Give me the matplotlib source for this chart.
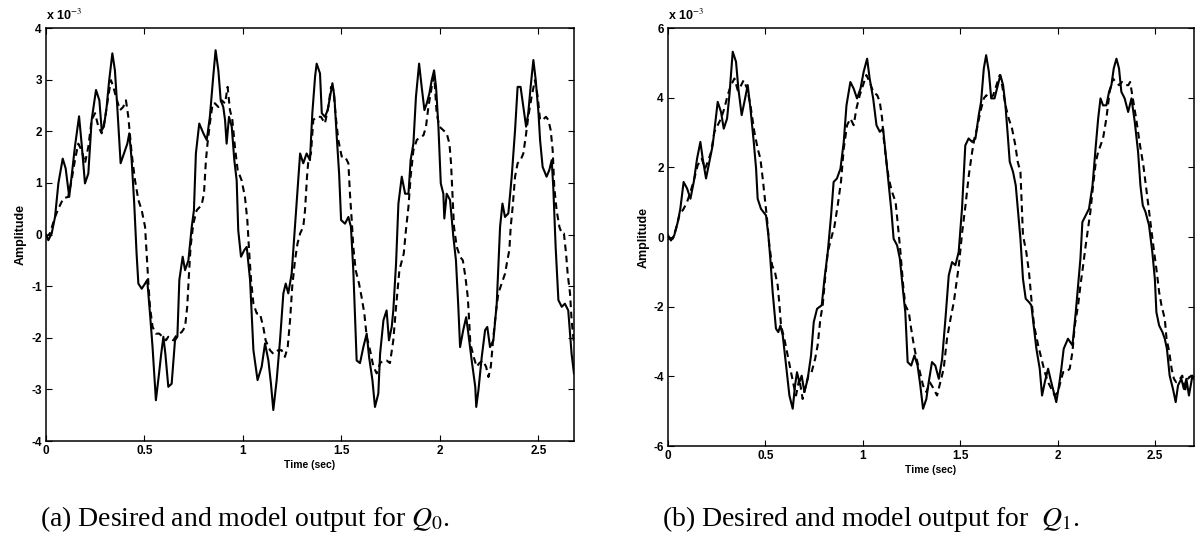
import numpy as np
import matplotlib
matplotlib.use("Agg")
import matplotlib.pyplot as plt

plt.rcParams['axes.unicode_minus'] = False
plt.rcParams['mathtext.fontset'] = 'stix'

# ---- (a) Q0 : desired (solid) and model (dashed), amplitude in units of 1e-3 ----
t_a_des = [0, 0.012, 0.029, 0.046, 0.063, 0.085, 0.10, 0.118, 0.13, 0.147, 0.168, 0.181, 0.198, 0.215,
           0.232, 0.254, 0.271, 0.283, 0.294, 0.308, 0.321, 0.337, 0.35, 0.362, 0.379, 0.396, 0.413,
           0.423, 0.435, 0.448, 0.46, 0.469, 0.486, 0.503, 0.514, 0.528, 0.541, 0.558, 0.574, 0.585,
           0.596, 0.606, 0.621, 0.638, 0.655, 0.667, 0.677, 0.694, 0.706, 0.723, 0.74, 0.751, 0.761,
           0.778, 0.799, 0.816, 0.832, 0.849, 0.861, 0.875, 0.887, 0.90, 0.909, 0.917, 0.929, 0.943,
           0.956, 0.968, 0.976, 0.99, 1.007, 1.019, 1.036, 1.053, 1.074, 1.095, 1.112, 1.129, 1.142,
           1.154, 1.171, 1.188, 1.205, 1.217, 1.23, 1.247, 1.264, 1.281, 1.29, 1.306, 1.323, 1.34,
           1.352, 1.366, 1.374, 1.391, 1.40, 1.416, 1.43, 1.442, 1.454, 1.464, 1.476, 1.488, 1.498,
           1.518, 1.535, 1.548, 1.56, 1.577, 1.594, 1.611, 1.628, 1.64, 1.657, 1.67, 1.687, 1.696,
           1.713, 1.729, 1.741, 1.755, 1.763, 1.777, 1.789, 1.806, 1.823, 1.84, 1.851, 1.865, 1.878,
           1.894, 1.907, 1.921, 1.933, 1.946, 1.958, 1.97, 1.98, 1.992, 2.004, 2.017, 2.022, 2.034,
           2.051, 2.068, 2.081, 2.093, 2.102, 2.118, 2.133, 2.144, 2.161, 2.179, 2.184, 2.195, 2.212,
           2.229, 2.24, 2.254, 2.271, 2.288, 2.305, 2.317, 2.33, 2.347, 2.364, 2.381, 2.394, 2.409,
           2.423, 2.437, 2.448, 2.46, 2.474, 2.486, 2.50, 2.508, 2.521, 2.541, 2.555, 2.567, 2.575,
           2.587, 2.601, 2.618, 2.634, 2.651, 2.66, 2.668, 2.68]
a_des = [0.0, -0.11, 0.02, 0.34, 0.99, 1.47, 1.28, 0.73, 1.12, 1.70, 2.29, 1.76, 0.99, 1.18,
         2.22, 2.80, 2.60, 2.02, 2.09, 2.47, 2.99, 3.51, 3.18, 2.47, 1.38, 1.57, 1.76,
         1.96, 1.44, 0.60, -0.37, -0.95, -1.05, -0.95, -0.88, -1.53, -2.18, -3.21, -2.69, -2.31,
         -1.98, -2.31, -2.95, -2.89, -2.05, -1.98, -0.88, -0.43, -0.69, -0.50, 0.15, 0.47, 1.57,
         2.15, 1.96, 1.83, 2.28, 3.06, 3.57, 3.18, 2.60, 2.47, 2.22, 1.76, 2.28, 2.09,
         1.44, 1.05, 0.08, -0.43, -0.30, -0.24, -0.88, -2.24, -2.82, -2.56, -2.11, -2.44, -2.89,
         -3.40, -2.82, -2.05, -1.14, -0.95, -1.14, -0.76, 0.15, 1.05, 1.57, 1.38, 1.57, 1.44,
         2.35, 3.06, 3.31, 3.12, 2.35, 2.28, 2.41, 2.67, 2.93, 2.67, 1.89, 1.18, 0.28,
         0.21, 0.34, 0.15, -0.69, -2.44, -2.49, -2.18, -1.92, -2.37, -2.82, -3.34, -3.08, -2.31,
         -1.66, -1.47, -2.05, -1.79, -1.47, -0.56, 0.60, 1.12, 0.79, 0.79, 1.44, 1.76, 2.67,
         3.31, 2.86, 2.41, 2.54, 2.73, 2.99, 3.18, 2.86, 2.09, 0.99, 0.79, 0.31, 0.79,
         0.67, -0.05, -0.50, -1.40, -2.18, -1.85, -1.60, -1.92, -2.44, -2.95, -3.34, -3.02, -2.37,
         -1.85, -1.79, -2.18, -2.05, -1.34, 0.15, 0.60, 0.34, 0.41, 1.12, 2.02, 2.86, 2.86,
         2.47, 2.09, 2.35, 2.86, 3.38, 2.99, 2.35, 1.83, 1.31, 1.12, 1.25, 1.44, 0.92,
         -0.24, -1.27, -1.40, -1.34, -1.47, -1.92, -2.31, -2.69]

t_a_mod = [0, 0.02, 0.046, 0.063, 0.088, 0.113, 0.13, 0.147, 0.164, 0.181, 0.198, 0.215, 0.232, 0.249,
           0.266, 0.283, 0.299, 0.316, 0.33, 0.342, 0.355, 0.376, 0.392, 0.406, 0.418, 0.435, 0.452,
           0.469, 0.486, 0.503, 0.511, 0.52, 0.528, 0.541, 0.558, 0.575, 0.592, 0.609, 0.621, 0.646,
           0.663, 0.689, 0.706, 0.717, 0.726, 0.734, 0.748, 0.765, 0.79, 0.802, 0.812, 0.82, 0.832,
           0.846, 0.858, 0.875, 0.892, 0.909, 0.922, 0.934, 0.946, 0.959, 0.973, 0.993, 1.01, 1.022,
           1.032, 1.041, 1.053, 1.07, 1.086, 1.103, 1.115, 1.137, 1.154, 1.179, 1.196, 1.213, 1.227,
           1.239, 1.25, 1.264, 1.277, 1.29, 1.306, 1.315, 1.325, 1.332, 1.345, 1.357, 1.374, 1.396,
           1.416, 1.433, 1.447, 1.459, 1.471, 1.484, 1.501, 1.518, 1.535, 1.543, 1.552, 1.56, 1.572,
           1.589, 1.602, 1.616, 1.628, 1.645, 1.662, 1.679, 1.696, 1.713, 1.729, 1.746, 1.763, 1.777,
           1.794, 1.816, 1.827, 1.84, 1.851, 1.865, 1.882, 1.899, 1.916, 1.929, 1.941, 1.958, 1.971,
           1.983, 1.997, 2.017, 2.034, 2.048, 2.056, 2.063, 2.071, 2.085, 2.102, 2.116, 2.129, 2.141,
           2.148, 2.154, 2.171, 2.186, 2.20, 2.217, 2.234, 2.246, 2.258, 2.271, 2.285, 2.296, 2.313,
           2.33, 2.342, 2.352, 2.359, 2.369, 2.381, 2.394, 2.409, 2.423, 2.435, 2.448, 2.465, 2.482,
           2.496, 2.508, 2.521, 2.538, 2.55, 2.562, 2.572, 2.58, 2.592, 2.606, 2.618, 2.629, 2.64,
           2.648, 2.66, 2.668, 2.68]
a_mod = [-0.05, 0.02, 0.34, 0.50, 0.70, 0.73, 1.05, 1.44, 1.76, 1.63, 1.38, 1.70, 2.22, 2.35,
         2.09, 1.96, 2.22, 2.67, 2.99, 2.86, 2.67, 2.41, 2.47, 2.60, 2.28, 1.57, 1.05,
         0.67, 0.47, 0.15, -0.37, -0.95, -1.40, -1.79, -1.92, -1.92, -1.98, -2.05, -1.98, -2.05,
         -1.95, -1.89, -1.79, -1.40, -0.76, -0.24, 0.21, 0.47, 0.57, 0.79, 1.44, 1.76, 2.15,
         2.54, 2.54, 2.47, 2.60, 2.54, 2.86, 2.41, 2.22, 1.70, 1.25, 1.05, 0.73, 0.28,
         -0.37, -0.88, -1.34, -1.53, -1.53, -1.79, -2.05, -2.24, -2.31, -2.24, -2.24, -2.37, -2.18,
         -1.66, -1.01, -0.50, -0.17, 0.02, 0.15, 0.47, 1.12, 1.44, 1.57, 2.22, 2.28, 2.28,
         2.15, 2.47, 2.86, 2.80, 2.28, 1.83, 1.51, 1.51, 1.38, 0.79, 0.28, -0.24, -0.69,
         -0.95, -1.21, -1.53, -1.98, -2.24, -2.56, -2.69, -2.49, -2.44, -2.44, -2.49, -2.05, -1.40,
         -0.69, -0.37, 0.08, 0.54, 1.12, 1.63, 1.83, 1.89, 1.92, 2.09, 2.47, 2.86, 3.06,
         2.35, 2.09, 2.02, 1.96, 1.76, 1.38, 0.79, 0.15, -0.24, -0.43, -0.50, -0.82, -1.21,
         -1.66, -2.11, -2.37, -2.56, -2.49, -2.44, -2.56, -2.76, -2.56, -1.98, -1.47, -1.14, -0.95,
         -0.76, -0.50, -0.30, 0.15, 0.54, 1.12, 1.38, 1.44, 1.57, 1.89, 2.28, 2.67, 2.99,
         2.67, 2.22, 2.22, 2.28, 2.22, 2.02, 1.63, 0.92, 0.47, 0.15, 0.02, 0.02, -0.37,
         -0.76, -1.14, -1.66, -2.11]

# ---- (b) Q1 ----
t_b_des = [0, 0.015, 0.032, 0.05, 0.063, 0.08, 0.098, 0.115, 0.132, 0.149, 0.166, 0.178, 0.195, 0.212,
           0.229, 0.241, 0.255, 0.272, 0.286, 0.303, 0.315, 0.327, 0.332, 0.349, 0.361, 0.378, 0.392,
           0.409, 0.423, 0.44, 0.452, 0.46, 0.477, 0.503, 0.515, 0.525, 0.537, 0.554, 0.566, 0.577,
           0.589, 0.606, 0.623, 0.64, 0.652, 0.662, 0.674, 0.686, 0.70, 0.717, 0.734, 0.748, 0.765,
           0.789, 0.803, 0.82, 0.837, 0.85, 0.867, 0.885, 0.902, 0.916, 0.936, 0.953, 0.97, 0.988,
           1.004, 1.022, 1.035, 1.053, 1.07, 1.087, 1.104, 1.116, 1.133, 1.147, 1.158, 1.176, 1.19,
           1.207, 1.218, 1.23, 1.248, 1.265, 1.281, 1.295, 1.309, 1.326, 1.338, 1.355, 1.372, 1.39,
           1.407, 1.424, 1.441, 1.458, 1.475, 1.492, 1.509, 1.526, 1.543, 1.561, 1.578, 1.595, 1.607,
           1.621, 1.633, 1.647, 1.659, 1.676, 1.693, 1.706, 1.72, 1.732, 1.744, 1.754, 1.771, 1.785,
           1.797, 1.809, 1.822, 1.836, 1.853, 1.865, 1.877, 1.891, 1.908, 1.92, 1.934, 1.951, 1.963,
           1.976, 1.993, 2.007, 2.019, 2.031, 2.053, 2.076, 2.093, 2.105, 2.117, 2.127, 2.144, 2.161,
           2.179, 2.196, 2.208, 2.22, 2.233, 2.25, 2.264, 2.276, 2.288, 2.302, 2.315, 2.327, 2.344,
           2.362, 2.379, 2.396, 2.413, 2.425, 2.437, 2.451, 2.469, 2.486, 2.499, 2.507, 2.521, 2.538,
           2.55, 2.561, 2.575, 2.592, 2.606, 2.618, 2.635, 2.648, 2.661, 2.674, 2.692, 2.70]
b_des = [0.05, -0.10, 0.05, 0.43, 0.81, 1.58, 1.39, 1.10, 1.58, 2.25, 2.73, 2.25, 1.68, 2.16,
         2.63, 3.21, 3.88, 3.59, 3.11, 3.40, 4.07, 4.93, 5.32, 5.03, 4.26, 3.50, 3.88,
         4.36, 3.69, 2.73, 1.96, 1.10, 0.81, 0.62, 0.05, -0.62, -1.58, -2.63, -2.73, -2.54,
         -2.83, -3.69, -4.55, -4.93, -4.26, -3.88, -4.17, -3.98, -4.45, -4.07, -3.40, -2.44, -2.06,
         -1.96, -1.20, -0.43, 0.62, 1.58, 1.68, 1.96, 2.73, 3.78, 4.45, 4.26, 3.98, 4.26,
         4.74, 5.12, 4.55, 3.98, 3.21, 3.02, 3.11, 2.44, 1.48, 0.72, -0.05, -0.24, -0.62,
         -1.58, -2.16, -3.59, -3.69, -3.40, -3.69, -4.26, -4.93, -4.65, -4.17, -3.59, -3.69, -4.07,
         -3.50, -2.35, -1.10, -0.72, -0.81, -0.43, 0.81, 2.63, 2.83, 2.73, 2.83, 3.50, 3.88,
         4.84, 5.22, 4.74, 3.98, 3.98, 4.36, 4.65, 4.36, 3.78, 2.92, 2.16, 1.87, 1.48,
         0.72, -0.05, -1.20, -1.77, -1.87, -1.96, -2.54, -3.21, -3.78, -4.55, -4.17, -3.78, -4.07,
         -4.36, -4.74, -4.26, -3.78, -3.21, -2.92, -3.11, -2.16, -1.39, -0.62, 0.43, 0.62, 0.81,
         1.48, 2.63, 3.40, 3.98, 3.78, 3.78, 4.17, 4.36, 4.84, 5.12, 4.84, 4.17, 3.98,
         3.59, 3.98, 3.30, 2.44, 1.48, 0.91, 0.72, 0.34, -0.43, -1.20, -2.16, -2.54, -2.73,
         -2.92, -3.21, -3.98, -4.36, -4.74, -4.26, -4.07, -4.36, -4.07, -4.55, -3.98, -4.07]

t_b_mod = [0, 0.024, 0.041, 0.058, 0.08, 0.098, 0.115, 0.135, 0.152, 0.173, 0.19, 0.204, 0.221, 0.238,
           0.255, 0.272, 0.289, 0.306, 0.323, 0.341, 0.358, 0.371, 0.388, 0.406, 0.423, 0.443, 0.46,
           0.474, 0.486, 0.495, 0.508, 0.52, 0.534, 0.549, 0.563, 0.572, 0.58, 0.597, 0.614, 0.631,
           0.645, 0.657, 0.674, 0.691, 0.703, 0.72, 0.737, 0.755, 0.768, 0.782, 0.794, 0.806, 0.82,
           0.837, 0.854, 0.871, 0.888, 0.902, 0.919, 0.936, 0.953, 0.967, 0.984, 1.001, 1.018, 1.035,
           1.053, 1.074, 1.087, 1.099, 1.107, 1.121, 1.133, 1.15, 1.168, 1.18, 1.193, 1.207, 1.218,
           1.236, 1.248, 1.262, 1.276, 1.293, 1.309, 1.326, 1.344, 1.364, 1.381, 1.398, 1.415, 1.432,
           1.45, 1.467, 1.481, 1.493, 1.51, 1.527, 1.544, 1.561, 1.573, 1.586, 1.603, 1.621, 1.634,
           1.652, 1.669, 1.686, 1.703, 1.715, 1.732, 1.749, 1.766, 1.783, 1.795, 1.809, 1.822, 1.839,
           1.853, 1.865, 1.879, 1.90, 1.917, 1.934, 1.951, 1.968, 1.985, 2.002, 2.014, 2.028, 2.045,
           2.062, 2.076, 2.088, 2.105, 2.117, 2.131, 2.144, 2.156, 2.168, 2.182, 2.196, 2.208, 2.22,
           2.233, 2.25, 2.267, 2.284, 2.298, 2.315, 2.33, 2.351, 2.363, 2.372, 2.386, 2.403, 2.423,
           2.44, 2.457, 2.474, 2.491, 2.509, 2.521, 2.533, 2.55, 2.559, 2.573, 2.585, 2.597, 2.609,
           2.628, 2.64, 2.652, 2.669, 2.686, 2.70]
b_mod = [-0.05, -0.05, 0.24, 0.62, 0.81, 1.01, 1.29, 1.68, 2.06, 2.25, 1.96, 2.16, 2.44, 3.02,
         3.21, 3.40, 3.69, 4.07, 4.36, 4.55, 4.21, 4.31, 4.50, 4.26, 3.78, 3.02, 2.54,
         2.25, 1.68, 1.20, 0.53, -0.24, -0.81, -1.01, -1.39, -1.96, -2.54, -2.92, -3.40, -3.88,
         -4.26, -4.55, -4.07, -4.65, -4.36, -3.98, -3.88, -3.50, -3.11, -2.35, -1.96, -1.20, -0.43,
         -0.05, 0.30, 0.91, 1.60, 2.54, 3.21, 3.40, 3.21, 3.69, 4.07, 4.36, 4.65, 4.45,
         4.17, 4.07, 3.88, 3.40, 2.83, 2.16, 1.68, 1.29, 1.01, 0.34, -0.43, -1.39, -1.96,
         -2.16, -2.63, -3.11, -3.50, -3.88, -4.26, -4.45, -4.17, -4.36, -4.55, -4.17, -3.78, -2.92,
         -2.35, -1.87, -1.29, -0.81, 0.14, 0.91, 1.77, 2.44, 2.83, 3.11, 3.59, 3.98, 4.07,
         3.98, 4.07, 4.36, 4.65, 4.36, 3.78, 3.40, 3.11, 2.63, 2.16, 1.87, 0.05, -0.43,
         -1.01, -1.77, -2.54, -3.11, -3.50, -3.88, -4.17, -4.36, -4.55, -4.45, -4.17, -3.88, -3.88,
         -3.78, -3.30, -2.54, -1.96, -1.39, -0.81, -0.24, 0.24, 0.72, 1.48, 2.16, 2.44, 2.63,
         2.83, 3.40, 4.17, 4.55, 4.45, 4.36, 4.45, 4.36, 4.36, 4.45, 3.98, 3.40, 2.63,
         2.06, 1.29, 0.53, -0.24, -1.01, -1.58, -1.96, -2.35, -2.92, -3.30, -3.78, -4.07, -4.17,
         -4.07, -3.98, -4.45, -4.07, -3.98, -4.07]

xticks = [0, 0.5, 1, 1.5, 2, 2.5]
xticklabels = ["0", "0.5", "1", "1.5", "2", "2.5"]
yticks_a = [-4, -3, -2, -1, 0, 1, 2, 3, 4]
yticks_b = [-6, -4, -2, 0, 2, 4, 6]
captions = [r"(a) Desired and model output for $Q_0$.", r"(b) Desired and model output for  $Q_1$."]

fig = plt.figure(figsize=(12, 5.43), dpi=100)
ax_a = fig.add_axes([0.0383, 0.1878, 0.44, 0.7606])
ax_b = fig.add_axes([0.5567, 0.1786, 0.4383, 0.7698])

panels = [
    (ax_a, t_a_des, a_des, t_a_mod, a_mod, yticks_a, (-4, 4), 2.68),
    (ax_b, t_b_des, b_des, t_b_mod, b_mod, yticks_b, (-6, 6), 2.70),
]

for ax, td, yd, tm, ym, yt, ylim, xmax in panels:
    ax.plot(td, yd, color="black", lw=1.5, solid_joinstyle="round")
    ax.plot(tm, ym, color="black", lw=1.5, linestyle=(0, (3.2, 2.2)))
    ax.set_xlim(0, xmax)
    ax.set_ylim(*ylim)
    ax.set_xticks(xticks)
    ax.set_xticklabels(xticklabels)
    ax.set_yticks(yt)
    ax.set_yticklabels([str(v) for v in yt])
    ax.tick_params(direction="in", top=True, right=True, length=4, width=0.8, pad=3)
    for lbl in ax.get_xticklabels() + ax.get_yticklabels():
        lbl.set_fontfamily("Liberation Sans")
        lbl.set_fontweight("bold")
        lbl.set_fontsize(8.5)
    for sp in ax.spines.values():
        sp.set_linewidth(1.1)
    ax.set_xlabel("Time (sec)", family="Liberation Sans", weight="bold", size=7.5, labelpad=2)
    ax.set_ylabel("Amplitude", family="Liberation Sans", weight="bold", size=9, labelpad=3)
    ax.text(0.0, 1.012, r"x 10$^{-3}$", transform=ax.transAxes, ha="left", va="bottom",
            family="Liberation Sans", weight="bold", fontsize=9)

fig.text(0.204, 0.045, captions[0], family="Liberation Serif", fontsize=20, ha="center", va="center")
fig.text(0.726, 0.045, captions[1], family="Liberation Serif", fontsize=20, ha="center", va="center")

fig.savefig("out.png", dpi=100)
